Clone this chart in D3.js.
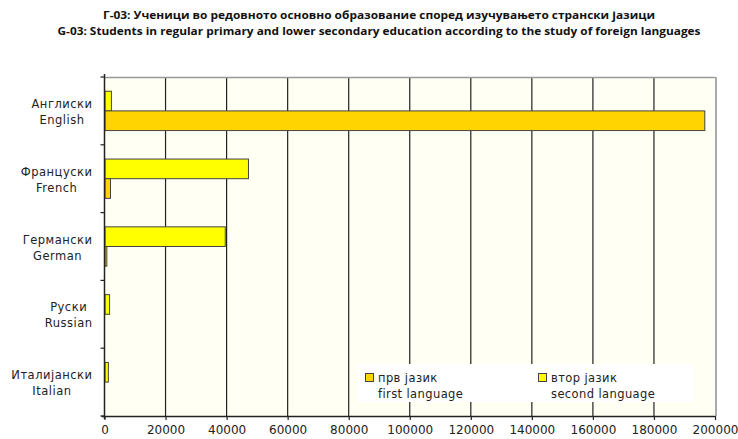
<!DOCTYPE html>
<html>
<head>
<meta charset="utf-8">
<script src="https://cdn.jsdelivr.net/npm/d3@7"></script>
<style>
  body { margin: 0; background: #fff; }
  svg { display: block; }
</style>
</head>
<body>
<div id="chart"></div>
<script>
// categories, top to bottom
var categoriesMk = ["Англиски", "Француски", "Германски", "Руски", "Италијански"];
var categoriesEn = ["English", "French", "German", "Russian", "Italian"];
// number of pupils
var firstLang  = [196500, 1800, 600, 0, 0];
var secondLang = [2100, 47000, 39400, 1500, 1100];
var xTicks = [0, 20000, 40000, 60000, 80000, 100000, 120000, 140000, 160000, 180000, 200000];
var seriesNames = [["прв јазик", "first language"], ["втор јазик", "second language"]];
var titles = ["Г-03: Ученици во редовното основно образование според изучувањето странски јазици",
              "G-03: Students in regular primary and lower secondary education according to the study of foreign languages"];

var w = 738, h = 439;
var margin = {top: 77, right: 23, bottom: 23, left: 104.5},
    width = w - margin.left - margin.right,
    height = h - margin.top - margin.bottom;

var svg = d3.select("#chart").append("svg")
    .attr("width", w)
    .attr("height", h);

// titles
svg.selectAll(".title")
    .data(titles)
    .enter().append("text")
    .attr("class", "title")
    .attr("x", 379)
    .attr("y", function(d, i) { return 19 + i * 16; })
    .attr("text-anchor", "middle")
    .attr("textLength", function(d, i) { return i == 0 ? 552 : 643; })
    .attr("lengthAdjust", "spacingAndGlyphs")
    .style("font", "bold 11px 'Open Sans', sans-serif")
    .style("fill", "#111")
    .text(function(d) { return d; });

var g = svg.append("g").attr("transform", "translate(" + margin.left + "," + margin.top + ")");

var x = d3.scaleLinear().domain([0, 200000]).range([0, width]);
var y = d3.scaleBand().domain(d3.range(categoriesEn.length)).range([0, height]);
var barH = y.bandwidth() * 0.29;
var off = (y.bandwidth() - 2 * barH) / 2;

// plot background
g.append("rect")
    .attr("width", width)
    .attr("height", height)
    .style("fill", "#fffff4");

// gridlines
g.selectAll(".grid")
    .data(xTicks.slice(1, -1))
    .enter().append("line")
    .attr("x1", function(d) { return x(d); })
    .attr("x2", function(d) { return x(d); })
    .attr("y1", 0)
    .attr("y2", height)
    .style("stroke", "#222")
    .style("stroke-width", 1.2);

// top and right border
g.append("line").attr("x1", 0).attr("x2", width).attr("y1", 0.5).attr("y2", 0.5)
    .style("stroke", "#999").style("stroke-width", 1.5);
g.append("line").attr("x1", width + 1).attr("x2", width + 1).attr("y1", 0).attr("y2", height)
    .style("stroke", "#aaa").style("stroke-width", 2);

// bars: second language on top, first language below
var bars = [];
categoriesEn.forEach(function(c, i) {
  bars.push({i: i, v: secondLang[i], pos: 0, color: "#ffff00"});
  bars.push({i: i, v: firstLang[i], pos: 1, color: "#ffd400"});
});

g.selectAll(".bar")
    .data(bars.filter(function(d) { return d.v > 0; }))
    .enter().append("rect")
    .attr("class", "bar")
    .attr("x", x(0) + 0.5)
    .attr("y", function(d) { return y(d.i) + off + d.pos * barH; })
    .attr("width", function(d) { return x(d.v) - x(0); })
    .attr("height", barH)
    .style("fill", function(d) { return d.color; })
    .style("stroke", "#444")
    .style("stroke-width", 1);

// x axis
var xAxis = g.append("g")
    .attr("transform", "translate(0," + height + ")")
    .call(d3.axisBottom(x).tickValues(xTicks).tickSize(4).tickPadding(5).tickFormat(d3.format("d")));
xAxis.select(".domain").attr("d", "M-3,0.5H" + width).style("stroke", "#222").style("stroke-width", 1.5);
xAxis.selectAll(".tick line").style("stroke", "#222").style("stroke-width", 1.2);
xAxis.selectAll("text").style("font", "12px 'DejaVu Sans', sans-serif").style("fill", "#222");

// y axis
var yAxis = g.append("g");
yAxis.append("line").attr("x1", 0).attr("x2", 0).attr("y1", -3).attr("y2", height + 3)
    .style("stroke", "#222").style("stroke-width", 1.5);
yAxis.selectAll(".ytick")
    .data(d3.range(categoriesEn.length + 1))
    .enter().append("line")
    .attr("x1", -4).attr("x2", 0)
    .attr("y1", function(d) { return d * y.step(); })
    .attr("y2", function(d) { return d * y.step(); })
    .style("stroke", "#222").style("stroke-width", 1.2);

// category labels, two lines centred on each other, block right aligned
var labels = g.selectAll(".cat")
    .data(categoriesEn.map(function(c, i) { return {mk: categoriesMk[i], en: c, i: i}; }))
    .enter().append("g")
    .attr("class", "cat");
labels.each(function(d) {
  var el = d3.select(this);
  var cy = y(d.i) + y.bandwidth() / 2;
  var t1 = el.append("text").attr("y", cy - 3).text(d.mk);
  var t2 = el.append("text").attr("y", cy + 13).text(d.en);
  el.selectAll("text")
    .attr("text-anchor", "middle")
    .style("font", "11.5px 'DejaVu Sans', sans-serif")
    .style("letter-spacing", "0.5px")
    .style("fill", "#222");
  var mw = Math.max(t1.node().getComputedTextLength(), t2.node().getComputedTextLength());
  el.selectAll("text").attr("x", -12 - mw / 2);
});

// legend
var legend = svg.append("g").attr("transform", "translate(358,364)");
legend.append("rect").attr("width", 336).attr("height", 38).style("fill", "#fff");
var item = legend.selectAll(".item")
    .data(seriesNames)
    .enter().append("g")
    .attr("transform", function(d, i) { return "translate(" + (7 + i * 173) + ",0)"; });
item.append("rect")
    .attr("x", 0.5).attr("y", 9.5).attr("width", 8).attr("height", 8)
    .style("fill", function(d, i) { return i == 0 ? "#ffd400" : "#ffff00"; })
    .style("stroke", "#444");
item.append("text").attr("x", 13).attr("y", 18).text(function(d) { return d[0]; });
item.append("text").attr("x", 13).attr("y", 34).text(function(d) { return d[1]; });
item.selectAll("text")
    .style("font", "11.5px 'DejaVu Sans', sans-serif")
    .style("letter-spacing", "0.4px")
    .style("fill", "#222");
</script>
</body>
</html>
